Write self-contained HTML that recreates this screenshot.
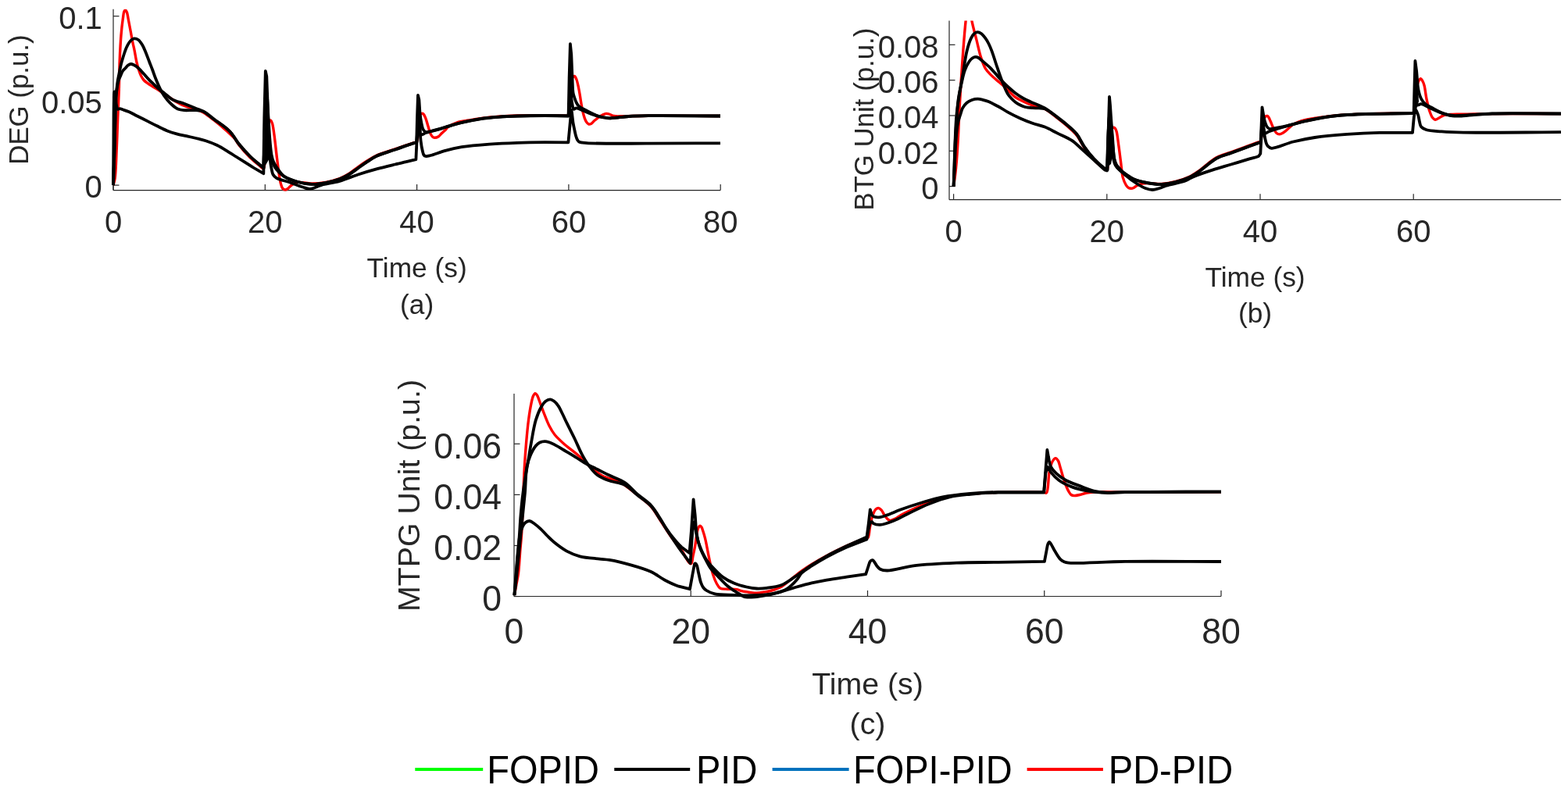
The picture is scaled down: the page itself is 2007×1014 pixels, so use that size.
<!DOCTYPE html>
<html><head><meta charset="utf-8"><title>Figure</title>
<style>html,body{margin:0;padding:0;background:#fff;overflow:hidden}svg{display:block}</style>
</head><body>
<svg width="2007" height="1014" viewBox="0 0 2007 1014" font-family="'Liberation Sans', Arial, Helvetica, sans-serif">
<rect width="2007" height="1014" fill="#ffffff"/>
<line x1="145.00" y1="243.60" x2="922.20" y2="243.60" stroke="#262626" stroke-width="1.2"/>
<line x1="145.00" y1="11.80" x2="145.00" y2="243.60" stroke="#262626" stroke-width="1.2"/>
<line x1="145.00" y1="243.60" x2="145.00" y2="236.10" stroke="#262626" stroke-width="1.2"/>
<text transform="translate(145.00 297.50) scale(1 1.02)" font-size="40" text-anchor="middle" fill="#262626">0</text>
<line x1="339.30" y1="243.60" x2="339.30" y2="236.10" stroke="#262626" stroke-width="1.2"/>
<text transform="translate(339.30 297.50) scale(1 1.02)" font-size="40" text-anchor="middle" fill="#262626">20</text>
<line x1="533.60" y1="243.60" x2="533.60" y2="236.10" stroke="#262626" stroke-width="1.2"/>
<text transform="translate(533.60 297.50) scale(1 1.02)" font-size="40" text-anchor="middle" fill="#262626">40</text>
<line x1="727.90" y1="243.60" x2="727.90" y2="236.10" stroke="#262626" stroke-width="1.2"/>
<text transform="translate(727.90 297.50) scale(1 1.02)" font-size="40" text-anchor="middle" fill="#262626">60</text>
<line x1="922.20" y1="243.60" x2="922.20" y2="236.10" stroke="#262626" stroke-width="1.2"/>
<text transform="translate(922.20 297.50) scale(1 1.02)" font-size="40" text-anchor="middle" fill="#262626">80</text>
<line x1="145.00" y1="237.10" x2="152.50" y2="237.10" stroke="#262626" stroke-width="1.2"/>
<text transform="translate(130.80 253.46) scale(1 1.02)" font-size="40" text-anchor="end" fill="#262626">0</text>
<line x1="145.00" y1="128.90" x2="152.50" y2="128.90" stroke="#262626" stroke-width="1.2"/>
<text transform="translate(130.80 145.26) scale(1 1.02)" font-size="40" text-anchor="end" fill="#262626">0.05</text>
<line x1="145.00" y1="20.70" x2="152.50" y2="20.70" stroke="#262626" stroke-width="1.2"/>
<text transform="translate(130.80 37.06) scale(1 1.02)" font-size="40" text-anchor="end" fill="#262626">0.1</text>
<clipPath id="clipa"><rect x="142.0" y="11.8" width="783.2" height="237.79999999999998"/></clipPath>
<g clip-path="url(#clipa)">
<path d="M145.00,237.10 C145.70,234.27 146.51,232.49 147.10,228.60 C148.33,220.42 148.69,202.98 149.30,190.00 C149.92,176.79 150.28,162.89 150.80,150.00 C151.28,137.94 151.90,126.91 152.30,115.00 C152.71,102.60 152.72,89.12 153.20,77.00 C153.64,65.87 154.21,54.54 155.00,45.00 C155.64,37.26 156.49,29.62 157.30,24.00 C157.85,20.20 158.12,16.32 159.00,14.50 C159.43,13.62 160.00,12.77 160.50,12.80 C161.10,12.84 161.77,14.24 162.30,15.50 C163.26,17.80 163.77,22.34 164.50,26.00 C165.30,29.98 166.05,34.04 166.90,38.50 C167.87,43.62 169.04,50.33 170.00,55.00 C170.71,58.46 171.30,60.56 172.00,64.00 C172.93,68.56 173.91,75.31 175.00,80.00 C175.87,83.74 176.80,86.98 177.80,90.00 C178.65,92.56 179.42,94.86 180.50,97.00 C181.51,99.00 182.60,100.92 184.00,102.50 C185.35,104.03 186.98,105.13 188.70,106.40 C190.61,107.81 192.70,109.05 195.00,110.50 C197.72,112.22 200.88,113.98 204.00,116.00 C207.51,118.27 211.41,121.11 215.00,123.50 C218.40,125.76 221.55,128.01 225.00,130.00 C228.48,132.01 231.81,133.91 235.80,135.50 C240.36,137.32 246.59,138.41 251.00,140.00 C254.52,141.27 257.01,142.13 260.30,144.00 C264.55,146.43 269.32,150.33 274.00,154.00 C279.20,158.08 285.34,163.33 290.00,167.50 C293.78,170.88 297.22,173.72 300.00,177.00 C302.47,179.91 303.52,182.69 306.10,186.00 C309.66,190.57 315.29,196.97 319.90,201.50 C323.96,205.49 328.88,209.36 332.10,212.00 C334.14,213.68 335.97,216.49 337.20,216.00 C339.14,215.22 338.84,205.94 339.50,200.00 C340.33,192.60 340.85,182.27 341.50,175.00 C342.01,169.36 342.31,163.75 343.00,160.00 C343.43,157.69 343.64,155.36 344.50,154.50 C345.01,154.00 345.83,153.75 346.40,154.00 C347.26,154.38 347.89,156.20 348.50,158.00 C349.58,161.19 350.09,166.39 350.90,172.00 C352.11,180.35 353.41,193.82 354.60,203.30 C355.59,211.20 356.54,219.08 357.50,225.00 C358.17,229.14 358.61,232.53 359.50,235.50 C360.20,237.82 360.79,240.26 362.00,241.50 C362.92,242.44 364.26,243.05 365.40,243.00 C366.60,242.95 367.82,241.87 369.00,241.00 C370.39,239.98 371.46,238.27 373.10,237.10 C375.02,235.72 377.40,234.07 380.00,233.50 C382.95,232.85 386.74,233.74 390.00,234.00 C393.13,234.25 395.63,234.98 399.20,235.00 C404.14,235.03 411.03,234.35 416.90,233.30 C422.87,232.23 429.47,230.61 434.70,228.60 C439.14,226.89 442.66,224.89 446.50,222.50 C450.54,219.99 454.33,216.60 458.30,213.80 C462.23,211.03 466.20,208.29 470.20,205.80 C474.10,203.37 477.27,201.16 482.00,199.00 C488.42,196.07 497.80,193.50 505.70,190.80 C513.57,188.10 524.70,184.15 529.30,182.80 C531.17,182.25 532.27,182.99 533.30,181.80 C535.67,179.07 534.65,166.02 535.50,160.00 C536.11,155.70 536.65,151.60 537.50,149.00 C538.00,147.46 538.37,145.97 539.20,145.50 C539.86,145.12 540.94,145.21 541.70,145.70 C542.92,146.49 543.86,149.16 544.80,151.40 C546.02,154.30 546.94,158.43 548.00,161.80 C549.01,164.99 549.88,168.72 551.00,171.10 C551.77,172.74 552.51,174.12 553.50,175.00 C554.30,175.71 555.14,176.22 556.20,176.30 C557.63,176.41 559.92,175.60 561.40,174.70 C562.84,173.82 563.68,172.27 565.00,171.00 C566.51,169.55 568.55,167.98 570.00,166.50 C571.26,165.22 571.69,163.95 573.30,162.70 C575.90,160.68 580.83,158.24 585.10,156.80 C589.68,155.26 595.04,154.87 600.00,154.00 C604.91,153.14 609.21,152.33 614.70,151.60 C621.63,150.68 630.42,149.80 638.30,149.20 C646.18,148.60 653.30,148.27 662.00,148.00 C672.64,147.67 686.15,147.55 697.50,147.60 L727.60,148.20 L729.50,120.00 L731.50,103.00 C732.06,100.96 732.60,99.37 733.50,98.50 C734.12,97.90 735.05,97.36 735.70,97.60 C736.64,97.94 737.31,100.19 738.00,102.00 C738.99,104.61 739.78,108.65 740.50,112.00 C741.21,115.32 741.73,118.60 742.30,122.00 C742.90,125.53 743.37,129.26 744.00,132.80 C744.61,136.25 745.26,139.85 746.00,143.00 C746.65,145.76 747.27,148.40 748.10,150.70 C748.81,152.66 749.49,154.56 750.50,156.00 C751.37,157.24 752.45,158.68 753.60,159.00 C754.64,159.29 755.93,158.78 757.00,158.20 C758.26,157.51 759.10,156.03 760.50,154.80 C762.38,153.14 764.95,150.84 767.40,149.30 C769.79,147.79 772.82,146.05 775.00,145.60 C776.50,145.29 777.52,145.48 779.00,145.80 C781.00,146.23 783.06,147.97 785.80,148.50 C789.62,149.24 794.39,148.62 800.00,148.60 C808.15,148.57 817.27,148.26 830.00,148.20 C852.29,148.09 891.33,148.40 922.00,148.50" fill="none" stroke="#ff0000" stroke-width="3.4" stroke-linejoin="round" stroke-linecap="butt"/>
<path d="M145.00,237.10 C145.13,218.07 145.26,198.40 145.40,180.00 C145.53,162.78 145.49,141.11 145.80,130.00 C145.96,124.44 145.54,117.98 146.40,117.50 C146.65,117.36 147.05,117.63 147.30,118.00 C148.00,119.05 147.90,123.22 148.20,126.00 C148.53,129.03 148.61,132.98 149.20,135.50 C149.61,137.24 149.90,139.31 150.80,139.80 C151.51,140.19 152.63,139.15 153.60,139.20 C154.69,139.26 155.64,139.84 157.00,140.30 C159.05,140.99 161.99,141.85 164.70,143.00 C167.93,144.37 171.29,146.33 175.00,148.20 C179.38,150.41 184.77,153.12 189.30,155.40 C193.40,157.46 196.98,159.35 201.00,161.30 C205.21,163.35 209.70,165.70 214.00,167.40 C218.03,168.99 221.93,170.17 226.00,171.30 C230.12,172.44 234.42,173.25 238.60,174.20 C242.75,175.15 246.88,176.00 251.00,177.00 C255.12,178.00 259.06,178.82 263.30,180.20 C268.03,181.74 273.18,183.64 278.00,186.00 C283.05,188.47 288.56,192.16 292.90,194.80 C296.32,196.88 298.85,198.53 302.00,200.50 C305.40,202.62 308.93,204.79 312.60,207.10 C316.58,209.61 320.85,212.47 325.00,215.00 L337.30,222.20 L338.60,170.00 L340.50,135.00 L342.50,150.00 C343.35,159.22 343.67,174.96 344.30,185.00 C344.78,192.60 345.15,199.33 345.80,205.00 C346.28,209.22 346.81,212.70 347.50,216.00 C348.08,218.76 348.30,221.42 349.50,223.50 C350.61,225.43 351.96,226.84 354.20,228.20 C357.69,230.31 364.31,231.21 369.60,233.00 C375.32,234.94 382.27,237.97 387.30,239.50 C390.92,240.60 393.34,241.94 396.80,241.80 C401.08,241.62 405.62,238.59 411.00,237.10 C417.85,235.20 426.87,234.04 434.70,231.80 C442.64,229.52 450.39,226.07 458.30,223.50 C466.16,220.94 474.07,218.57 482.00,216.40 C489.87,214.24 498.79,212.16 505.70,210.50 C511.06,209.21 515.41,208.29 520.00,207.20 L532.40,204.20 L534.00,170.00 L535.50,145.00 L537.00,160.00 C537.56,166.28 537.87,174.46 538.60,180.40 C539.18,185.06 539.90,189.48 540.70,192.80 C541.25,195.09 541.58,197.29 542.50,198.50 C543.12,199.32 543.79,199.79 544.80,200.00 C546.32,200.32 548.40,199.63 551.00,199.00 C555.64,197.88 563.46,194.58 570.00,192.80 C576.78,190.96 583.05,189.47 591.00,188.20 C601.25,186.56 614.66,185.50 626.50,184.60 C638.32,183.70 650.16,183.20 662.00,182.80 C673.83,182.40 686.17,182.26 697.50,182.20 L727.40,182.40 L729.50,160.00 L731.30,141.00 C731.97,140.99 732.79,152.86 733.60,157.60 C734.21,161.19 734.88,164.10 735.50,167.00 C736.04,169.51 736.46,171.88 737.10,174.00 C737.65,175.83 738.21,177.64 739.00,179.00 C739.63,180.10 740.02,181.03 741.20,181.70 C743.18,182.82 746.09,182.74 750.90,183.10 C764.56,184.13 802.64,183.66 830.00,183.70 C859.51,183.75 891.33,183.43 922.00,183.30" fill="none" stroke="#000000" stroke-width="3.8" stroke-linejoin="round" stroke-linecap="butt"/>
<path d="M145.00,237.10 C145.43,224.73 145.92,212.60 146.30,200.00 C146.69,186.92 146.92,172.98 147.30,160.00 C147.66,147.68 147.57,134.23 148.50,124.00 C149.20,116.34 150.21,108.81 151.50,104.00 C152.26,101.15 153.18,99.57 154.10,97.40 C155.01,95.24 155.82,92.78 157.00,91.00 C158.01,89.47 159.33,88.45 160.50,87.20 C161.66,85.95 162.72,84.38 164.00,83.50 C165.12,82.73 166.41,82.06 167.60,82.00 C168.74,81.94 169.75,82.41 171.00,83.00 C172.82,83.86 175.18,85.47 177.20,87.20 C179.53,89.20 181.70,91.99 184.00,94.50 C186.40,97.12 188.87,100.10 191.30,102.60 C193.54,104.90 195.82,106.96 198.00,109.00 C200.05,110.91 201.96,112.80 204.00,114.50 C205.96,116.13 207.73,117.25 210.00,119.00 C213.05,121.35 216.54,125.15 220.60,127.40 C225.04,129.86 230.74,130.89 235.80,132.80 C240.91,134.73 246.65,137.09 251.10,138.90 C254.56,140.30 257.05,140.88 260.30,142.70 C264.55,145.08 269.03,148.98 274.00,152.70 C280.04,157.23 288.40,162.36 293.90,168.00 C298.90,173.12 301.76,179.36 306.10,184.70 C310.43,190.03 315.31,195.47 319.90,200.00 C323.97,204.02 328.84,207.88 332.10,210.70 L337.50,215.30 L338.80,160.00 L340.20,115.00 L341.50,120.00 C342.43,125.77 342.83,140.00 343.50,150.00 C344.17,160.00 344.73,171.28 345.50,180.00 C346.10,186.77 346.55,193.06 347.50,198.00 C348.19,201.55 348.85,204.25 350.00,207.00 C351.06,209.55 352.24,211.44 354.00,214.00 C356.43,217.53 359.49,222.81 363.70,225.90 C368.39,229.35 375.40,231.33 381.40,233.00 C387.24,234.62 393.26,235.72 399.20,235.90 C405.10,236.08 411.03,235.17 416.90,234.10 C422.87,233.02 429.46,231.38 434.70,229.40 C439.13,227.73 442.65,225.80 446.50,223.50 C450.53,221.10 454.36,217.96 458.30,215.20 C462.26,212.43 466.20,209.50 470.20,206.90 C474.10,204.37 477.25,202.03 482.00,199.80 C488.41,196.79 497.81,194.25 505.70,191.50 C513.57,188.75 524.64,184.56 529.30,183.30 L533.40,182.50 L535.00,155.00 L536.50,152.00 C537.17,152.12 537.15,158.63 537.50,162.00 C537.85,165.46 537.36,171.60 538.60,172.50 C539.20,172.94 540.12,172.31 541.00,172.00 C542.19,171.59 543.50,170.56 545.00,170.00 C546.77,169.35 548.73,169.10 551.00,168.50 C554.00,167.71 558.10,166.56 561.40,165.60 C564.41,164.73 566.50,164.03 570.00,163.00 C575.46,161.40 583.75,158.75 591.00,157.00 C598.62,155.16 606.78,153.50 614.70,152.30 C622.55,151.11 630.42,150.42 638.30,149.80 C646.18,149.18 653.30,148.89 662.00,148.60 C672.64,148.24 686.15,148.00 697.50,148.00 L727.60,148.50 L729.00,125.00 L730.50,122.00 C731.26,122.11 731.52,128.90 732.20,132.00 C732.81,134.75 733.01,139.06 734.30,139.70 C735.19,140.14 736.36,138.31 737.80,138.30 C740.08,138.28 743.41,140.42 746.70,141.70 C750.80,143.30 755.95,145.71 760.50,147.20 C764.78,148.60 769.46,149.83 773.20,150.50 C776.09,151.02 777.70,151.29 781.00,151.30 C786.76,151.32 796.66,149.52 804.70,149.00 C812.99,148.47 818.93,148.36 830.00,148.20 C851.10,147.90 891.33,148.40 922.00,148.50" fill="none" stroke="#000000" stroke-width="3.8" stroke-linejoin="round" stroke-linecap="butt"/>
<path d="M145.00,237.10 C145.43,224.73 145.92,212.60 146.30,200.00 C146.69,186.92 146.95,172.59 147.30,160.00 C147.62,148.74 147.71,137.66 148.30,128.00 C148.79,119.97 149.45,112.21 150.30,106.00 C150.93,101.38 151.72,98.00 152.50,94.00 C153.28,90.00 154.15,85.45 155.00,82.00 C155.66,79.34 156.30,77.33 157.00,75.00 C157.70,72.66 158.40,70.32 159.20,68.00 C160.00,65.66 160.80,63.21 161.80,61.00 C162.75,58.89 163.80,56.74 165.00,55.00 C166.06,53.46 167.22,51.95 168.50,51.00 C169.59,50.19 170.71,49.48 172.00,49.40 C173.50,49.31 175.46,49.93 177.00,51.00 C178.97,52.36 180.77,55.18 182.30,57.70 C183.98,60.46 185.10,63.65 186.50,67.00 C188.10,70.84 189.80,75.62 191.30,79.50 C192.61,82.89 193.76,85.71 195.00,89.00 C196.33,92.53 197.44,96.10 199.00,100.00 C200.82,104.55 203.33,110.52 205.40,114.60 C206.97,117.69 208.40,120.13 210.00,122.50 C211.42,124.61 212.79,126.34 214.40,128.20 C216.10,130.17 218.12,132.29 220.00,134.00 C221.69,135.54 223.35,137.03 225.10,138.10 C226.69,139.07 228.26,139.78 230.00,140.30 C231.82,140.84 233.40,141.01 235.80,141.20 C239.68,141.50 246.66,140.84 251.10,141.20 C254.57,141.48 257.10,141.36 260.30,142.70 C264.62,144.51 269.03,148.98 274.00,152.70 C280.04,157.23 288.40,162.36 293.90,168.00 C298.90,173.12 301.76,179.36 306.10,184.70 C310.43,190.03 315.31,195.47 319.90,200.00 C323.97,204.02 328.86,208.00 332.10,210.70 L337.30,214.80 L338.30,150.00 L339.80,91.00 L341.30,98.00 L342.30,125.00 C342.64,134.74 342.90,145.26 343.30,155.00 C343.68,164.24 343.96,174.05 344.60,182.00 C345.11,188.33 345.58,194.26 346.50,199.00 C347.18,202.50 348.02,205.34 349.00,208.00 C349.83,210.24 350.58,212.03 351.80,214.00 C353.17,216.21 355.04,218.53 357.00,220.50 C359.00,222.50 360.77,224.18 363.70,225.90 C368.06,228.45 375.40,231.33 381.40,233.00 C387.24,234.62 393.26,235.72 399.20,235.90 C405.10,236.08 411.03,235.17 416.90,234.10 C422.87,233.02 429.46,231.38 434.70,229.40 C439.13,227.73 442.65,225.80 446.50,223.50 C450.53,221.10 454.36,217.96 458.30,215.20 C462.26,212.43 466.20,209.50 470.20,206.90 C474.10,204.37 477.25,202.03 482.00,199.80 C488.41,196.79 497.81,194.25 505.70,191.50 C513.57,188.75 524.74,184.73 529.30,183.30 L533.20,182.20 L534.00,150.00 L535.00,121.90 L536.40,128.00 L537.50,145.00 C537.95,149.24 538.45,152.97 539.20,156.60 C539.88,159.89 540.45,163.74 541.70,165.90 C542.54,167.36 543.45,168.56 544.80,169.00 C546.41,169.52 548.68,168.48 551.00,168.00 C554.03,167.38 558.11,166.31 561.40,165.40 C564.41,164.57 566.50,163.83 570.00,162.80 C575.46,161.20 583.75,158.55 591.00,156.80 C598.62,154.96 606.78,153.29 614.70,152.10 C622.55,150.93 630.42,150.30 638.30,149.70 C646.18,149.10 653.30,148.79 662.00,148.50 C672.64,148.14 686.15,147.92 697.50,147.90 L727.60,148.30 L728.60,100.00 L729.90,56.20 L731.30,70.00 L732.50,100.00 C732.85,107.06 732.80,114.36 733.60,119.00 C734.08,121.77 734.87,123.54 735.50,125.50 C736.03,127.15 736.36,128.47 737.10,130.00 C737.96,131.79 738.83,133.84 740.50,135.50 C742.63,137.62 746.31,139.22 749.50,141.00 C752.95,142.93 757.14,145.15 760.50,146.60 C763.20,147.77 765.52,148.61 768.00,149.30 C770.35,149.95 772.75,150.36 775.00,150.70 C777.07,151.01 778.70,151.28 781.00,151.30 C784.11,151.33 788.20,150.76 792.00,150.40 C796.08,150.01 799.74,149.35 804.70,149.00 C811.69,148.51 818.93,148.36 830.00,148.20 C851.10,147.90 891.33,148.40 922.00,148.50" fill="none" stroke="#000000" stroke-width="3.8" stroke-linejoin="round" stroke-linecap="butt"/>
<path d="M338.30,214.00 L339.80,93.00 L341.80,105.00 L343.00,130.00 L344.30,159.00 L345.60,185.00 L346.50,200.00 L342.00,208.00 Z" fill="#000"/>
<path d="M533.50,181.00 L535.00,124.00 L536.50,132.00 L537.70,150.00 L538.50,163.00 L536.00,176.00 Z" fill="#000"/>
<path d="M728.00,146.00 L729.90,58.00 L731.30,72.00 L732.60,100.00 L733.50,118.00 L732.00,135.00 L729.50,145.00 Z" fill="#000"/>
</g>
<text x="533.60" y="355.00" font-size="35.3" text-anchor="middle" fill="#262626">Time (s)</text>
<text x="533.60" y="401.80" font-size="35.3" text-anchor="middle" fill="#262626">(a)</text>
<text x="36.50" y="127.60" font-size="34.8" text-anchor="middle" fill="#262626" transform="rotate(-90 36.50 127.60)">DEG (p.u.)</text>
<line x1="1215.00" y1="255.70" x2="1998.10" y2="255.70" stroke="#262626" stroke-width="1.2"/>
<line x1="1215.00" y1="26.40" x2="1215.00" y2="255.70" stroke="#262626" stroke-width="1.2"/>
<line x1="1220.60" y1="255.70" x2="1220.60" y2="248.20" stroke="#262626" stroke-width="1.2"/>
<text transform="translate(1220.60 309.50) scale(1 1.02)" font-size="40" text-anchor="middle" fill="#262626">0</text>
<line x1="1416.80" y1="255.70" x2="1416.80" y2="248.20" stroke="#262626" stroke-width="1.2"/>
<text transform="translate(1416.80 309.50) scale(1 1.02)" font-size="40" text-anchor="middle" fill="#262626">20</text>
<line x1="1613.00" y1="255.70" x2="1613.00" y2="248.20" stroke="#262626" stroke-width="1.2"/>
<text transform="translate(1613.00 309.50) scale(1 1.02)" font-size="40" text-anchor="middle" fill="#262626">40</text>
<line x1="1809.20" y1="255.70" x2="1809.20" y2="248.20" stroke="#262626" stroke-width="1.2"/>
<text transform="translate(1809.20 309.50) scale(1 1.02)" font-size="40" text-anchor="middle" fill="#262626">60</text>
<line x1="1215.00" y1="238.60" x2="1222.50" y2="238.60" stroke="#262626" stroke-width="1.2"/>
<text transform="translate(1201.50 254.96) scale(1 1.02)" font-size="40" text-anchor="end" fill="#262626">0</text>
<line x1="1215.00" y1="193.28" x2="1222.50" y2="193.28" stroke="#262626" stroke-width="1.2"/>
<text transform="translate(1201.50 209.64) scale(1 1.02)" font-size="40" text-anchor="end" fill="#262626">0.02</text>
<line x1="1215.00" y1="147.96" x2="1222.50" y2="147.96" stroke="#262626" stroke-width="1.2"/>
<text transform="translate(1201.50 164.32) scale(1 1.02)" font-size="40" text-anchor="end" fill="#262626">0.04</text>
<line x1="1215.00" y1="102.64" x2="1222.50" y2="102.64" stroke="#262626" stroke-width="1.2"/>
<text transform="translate(1201.50 119.00) scale(1 1.02)" font-size="40" text-anchor="end" fill="#262626">0.06</text>
<line x1="1215.00" y1="57.32" x2="1222.50" y2="57.32" stroke="#262626" stroke-width="1.2"/>
<text transform="translate(1201.50 73.68) scale(1 1.02)" font-size="40" text-anchor="end" fill="#262626">0.08</text>
<clipPath id="clipb"><rect x="1212.0" y="26.4" width="789.0999999999999" height="235.29999999999998"/></clipPath>
<g clip-path="url(#clipb)">
<path d="M1220.60,238.60 C1221.23,234.07 1221.90,229.98 1222.50,225.00 C1223.22,218.98 1223.90,212.17 1224.50,205.00 C1225.19,196.68 1225.75,187.70 1226.30,178.00 C1226.94,166.68 1227.37,153.27 1228.00,141.20 C1228.61,129.51 1229.25,118.73 1230.00,106.70 C1230.83,93.50 1231.75,78.84 1232.80,65.20 C1233.82,51.92 1235.07,36.45 1236.20,25.90 C1236.97,18.77 1237.47,11.79 1238.50,8.00 C1239.00,6.14 1239.66,3.97 1240.20,4.00 C1240.84,4.04 1241.49,7.49 1242.00,10.00 C1242.82,14.01 1242.76,20.01 1243.80,25.90 C1245.14,33.44 1247.97,43.21 1250.00,51.40 C1251.90,59.03 1253.51,67.06 1255.60,73.50 C1257.29,78.70 1258.80,83.43 1261.10,87.30 C1263.06,90.60 1265.31,92.83 1268.00,95.60 C1271.14,98.83 1275.57,102.36 1279.00,105.30 C1281.94,107.82 1284.44,109.55 1287.30,112.20 C1290.70,115.34 1294.02,120.10 1297.90,123.10 C1301.61,125.98 1305.96,127.98 1310.00,130.00 C1313.83,131.92 1317.31,133.50 1321.50,135.00 C1326.30,136.72 1332.24,137.04 1337.30,139.50 C1342.82,142.19 1347.89,146.97 1353.10,151.00 C1358.43,155.13 1364.40,159.90 1368.90,164.00 C1372.54,167.32 1375.36,169.75 1378.30,173.50 C1381.73,177.87 1384.22,183.95 1387.80,189.00 C1391.55,194.29 1395.86,199.78 1400.40,204.50 C1404.81,209.09 1411.84,215.22 1414.60,217.00 C1415.59,217.64 1416.21,218.33 1416.80,218.00 C1418.17,217.24 1417.96,209.95 1418.50,205.00 C1419.22,198.43 1419.75,188.84 1420.50,182.00 C1421.11,176.46 1421.31,170.27 1422.50,167.00 C1423.15,165.22 1423.99,163.50 1424.90,163.20 C1425.54,162.99 1426.39,163.45 1427.00,164.00 C1427.85,164.77 1428.40,166.12 1429.00,168.00 C1430.21,171.79 1430.91,179.78 1431.80,186.00 C1432.75,192.65 1433.58,199.80 1434.50,206.70 C1435.42,213.60 1435.79,221.87 1437.30,227.40 C1438.37,231.33 1439.91,234.78 1441.40,237.10 C1442.38,238.63 1443.32,239.83 1444.50,240.50 C1445.52,241.08 1446.79,241.21 1447.90,241.20 C1448.96,241.19 1449.95,240.97 1451.00,240.50 C1452.30,239.92 1453.42,238.52 1455.00,237.70 C1456.95,236.69 1459.62,235.72 1462.00,235.20 C1464.35,234.69 1466.27,234.65 1469.20,234.60 C1473.79,234.53 1481.01,235.84 1486.90,235.50 C1492.84,235.15 1498.84,234.01 1504.70,232.50 C1510.67,230.96 1517.20,228.77 1522.40,226.30 C1526.89,224.17 1530.43,221.73 1534.30,219.00 C1538.33,216.16 1542.12,212.50 1546.10,209.50 C1549.99,206.57 1553.38,203.55 1557.90,201.20 C1563.07,198.51 1569.78,196.95 1575.70,194.80 C1581.61,192.65 1587.49,190.43 1593.40,188.30 C1599.32,186.17 1608.15,182.90 1611.20,182.00 C1612.23,181.70 1612.72,182.15 1613.30,181.50 C1614.92,179.70 1614.66,170.16 1615.50,165.00 C1616.25,160.40 1616.87,154.75 1618.00,152.00 C1618.59,150.57 1619.20,149.58 1620.00,149.00 C1620.62,148.55 1621.47,148.22 1622.10,148.40 C1622.82,148.61 1623.41,149.60 1624.00,150.50 C1624.81,151.73 1625.36,153.42 1626.20,155.30 C1627.39,157.97 1628.93,162.27 1630.40,165.00 C1631.56,167.15 1632.63,169.36 1634.00,170.50 C1635.01,171.34 1636.16,171.84 1637.30,171.90 C1638.49,171.97 1639.75,171.39 1641.00,170.80 C1642.50,170.09 1643.83,169.05 1645.60,167.70 C1648.27,165.66 1651.49,161.65 1655.20,159.40 C1659.23,156.96 1664.49,155.23 1669.10,153.90 C1673.42,152.66 1677.55,152.22 1682.00,151.50 C1686.73,150.74 1691.03,150.16 1696.70,149.50 C1704.46,148.59 1714.16,147.47 1724.30,146.80 C1736.69,145.99 1751.89,145.75 1765.70,145.40 C1779.52,145.05 1801.93,144.97 1807.20,144.70 C1808.44,144.64 1808.86,145.12 1809.50,144.50 C1811.38,142.70 1811.08,131.45 1812.00,125.00 C1812.91,118.62 1813.41,110.27 1815.00,106.00 C1815.91,103.56 1817.21,100.77 1818.30,100.70 C1819.20,100.64 1820.24,102.68 1821.00,104.00 C1821.90,105.58 1822.45,107.27 1823.10,109.70 C1824.18,113.75 1824.75,120.80 1825.90,126.30 C1827.05,131.83 1828.46,138.39 1830.00,142.80 C1831.08,145.91 1832.07,148.70 1833.50,150.50 C1834.53,151.80 1835.68,153.04 1837.00,153.20 C1838.47,153.38 1840.28,151.86 1842.00,151.00 C1843.93,150.03 1845.61,148.37 1848.00,147.60 C1851.03,146.62 1855.11,146.63 1859.00,146.40 C1863.36,146.15 1867.15,146.37 1872.90,146.30 C1882.29,146.18 1895.00,145.74 1910.00,145.60 C1933.10,145.38 1968.67,145.60 1998.00,145.60" fill="none" stroke="#ff0000" stroke-width="3.4" stroke-linejoin="round" stroke-linecap="butt"/>
<path d="M1220.60,238.60 C1221.00,230.73 1221.37,223.58 1221.80,215.00 C1222.32,204.70 1222.69,191.22 1223.50,181.00 C1224.17,172.58 1224.76,164.31 1226.00,158.00 C1226.89,153.46 1228.20,149.98 1229.30,146.50 C1230.23,143.55 1230.73,140.88 1232.10,138.40 C1233.49,135.88 1235.50,133.27 1237.60,131.50 C1239.51,129.89 1241.72,128.80 1244.00,128.00 C1246.31,127.19 1249.00,126.71 1251.40,126.70 C1253.66,126.69 1255.77,127.26 1258.00,127.80 C1260.37,128.37 1262.46,128.99 1265.20,130.10 C1269.11,131.69 1274.70,134.64 1279.00,137.00 C1282.92,139.15 1285.96,141.38 1290.00,143.60 C1294.75,146.21 1300.49,149.11 1305.80,151.50 C1310.99,153.84 1316.22,155.94 1321.50,157.80 C1326.72,159.64 1332.12,160.55 1337.30,162.60 C1342.65,164.72 1347.60,167.66 1353.10,170.40 C1359.12,173.40 1366.53,176.23 1372.00,179.90 C1376.86,183.17 1380.18,186.98 1384.60,190.90 C1389.58,195.31 1395.27,200.50 1400.40,205.10 C1405.26,209.45 1411.82,216.21 1414.60,217.80 L1416.80,218.50 L1418.30,175.00 L1419.70,150.00 C1420.16,149.99 1420.80,159.46 1421.30,165.00 C1421.92,171.85 1422.24,181.04 1423.00,188.00 C1423.63,193.83 1424.29,199.67 1425.30,204.00 C1426.01,207.07 1426.18,209.06 1427.80,211.70 C1430.12,215.49 1435.10,219.64 1439.60,223.50 C1444.76,227.93 1452.33,233.42 1457.30,236.50 C1460.62,238.56 1462.99,239.91 1466.00,241.00 C1468.93,242.06 1472.08,243.01 1475.10,243.00 C1478.08,242.99 1481.07,241.87 1484.00,241.00 C1486.97,240.11 1489.11,238.85 1492.80,237.70 C1498.74,235.85 1510.07,234.18 1516.50,231.80 C1521.23,230.05 1523.61,227.88 1528.30,225.90 C1534.77,223.16 1544.07,220.17 1552.00,217.60 C1559.87,215.04 1567.81,212.87 1575.70,210.50 C1583.58,208.14 1592.77,205.37 1599.30,203.40 C1603.94,202.00 1608.97,201.44 1611.20,199.80 L1613.30,196.70 L1614.80,170.00 L1616.30,160.00 C1616.78,159.99 1617.32,165.22 1617.80,168.00 C1618.32,171.00 1618.71,174.56 1619.30,177.40 C1619.80,179.81 1620.28,182.25 1621.00,184.00 C1621.52,185.27 1621.89,186.20 1622.80,187.10 C1623.93,188.21 1625.26,189.54 1627.60,189.80 C1632.95,190.39 1645.94,183.81 1655.20,181.50 C1664.37,179.22 1672.70,177.51 1682.90,176.00 C1695.28,174.16 1710.49,172.93 1724.30,171.90 C1738.09,170.87 1751.82,170.15 1765.70,169.80 L1808.00,169.80 L1809.80,150.00 L1811.50,140.00 C1812.04,139.88 1812.89,141.81 1813.50,143.00 C1814.26,144.50 1814.94,146.42 1815.50,148.40 C1816.15,150.69 1816.38,153.61 1817.00,156.00 C1817.57,158.19 1817.67,160.53 1819.00,162.20 C1820.48,164.05 1822.88,165.29 1825.90,166.30 C1830.59,167.87 1838.18,167.87 1845.20,168.40 C1853.59,169.04 1860.34,169.35 1872.90,169.60 C1899.58,170.14 1956.30,169.33 1998.00,169.20" fill="none" stroke="#000000" stroke-width="3.8" stroke-linejoin="round" stroke-linecap="butt"/>
<path d="M1220.60,238.60 C1220.90,230.73 1221.20,223.34 1221.50,215.00 C1221.84,205.60 1222.05,194.54 1222.50,185.00 C1222.91,176.28 1223.38,168.88 1224.00,160.00 C1224.71,149.85 1225.27,137.00 1226.60,127.40 C1227.67,119.69 1229.23,113.20 1230.70,106.70 C1232.02,100.84 1233.09,94.99 1234.90,90.10 C1236.44,85.94 1238.50,81.78 1240.40,79.00 C1241.73,77.05 1243.00,75.55 1244.50,74.50 C1245.80,73.60 1247.33,72.85 1248.70,72.80 C1249.99,72.75 1251.25,73.32 1252.50,74.00 C1254.02,74.82 1255.18,76.16 1257.00,77.70 C1259.87,80.14 1264.45,83.76 1268.00,87.30 C1271.80,91.08 1275.28,95.80 1279.00,99.80 C1282.61,103.69 1286.34,107.60 1290.00,111.00 C1293.34,114.11 1296.58,116.95 1300.00,119.50 C1303.26,121.93 1306.48,124.03 1310.00,126.00 C1313.64,128.04 1317.94,129.92 1321.50,131.50 C1324.53,132.85 1327.29,133.79 1330.00,135.00 C1332.54,136.13 1334.49,136.83 1337.30,138.50 C1341.66,141.09 1347.88,145.93 1353.10,149.90 C1358.42,153.95 1364.41,158.57 1368.90,162.60 C1372.54,165.87 1375.37,168.25 1378.30,172.00 C1381.75,176.41 1384.22,182.65 1387.80,187.80 C1391.55,193.19 1395.85,198.81 1400.40,203.60 C1404.81,208.25 1411.55,214.23 1414.60,216.20 L1417.50,217.50 L1419.00,160.00 L1420.50,145.00 C1421.10,145.00 1421.88,156.50 1422.50,163.00 C1423.23,170.65 1423.74,180.60 1424.50,188.00 C1425.11,193.93 1425.50,199.80 1426.50,204.00 C1427.18,206.85 1427.74,208.82 1429.00,211.00 C1430.35,213.34 1432.48,215.45 1434.50,217.50 C1436.60,219.62 1438.80,221.60 1441.40,223.50 C1444.35,225.66 1447.45,227.91 1451.40,229.60 C1456.36,231.71 1463.23,233.23 1469.20,234.30 C1475.07,235.35 1481.00,236.18 1486.90,236.00 C1492.84,235.82 1498.84,234.64 1504.70,233.20 C1510.67,231.73 1517.20,229.62 1522.40,227.20 C1526.89,225.11 1530.42,222.69 1534.30,220.00 C1538.33,217.21 1542.13,213.66 1546.10,210.70 C1549.99,207.80 1553.39,204.76 1557.90,202.40 C1563.07,199.70 1569.78,198.07 1575.70,195.90 C1581.61,193.74 1587.49,191.56 1593.40,189.40 C1599.32,187.23 1607.92,184.07 1611.20,182.90 L1613.80,182.00 L1615.20,160.00 L1616.50,157.00 C1617.11,157.08 1617.22,163.54 1617.80,166.00 C1618.22,167.78 1618.30,170.05 1619.30,170.50 C1620.33,170.97 1622.11,169.22 1624.00,168.50 C1626.79,167.44 1630.75,166.17 1634.50,165.00 C1638.77,163.67 1643.22,162.41 1648.30,161.00 C1654.52,159.28 1661.65,157.23 1669.10,155.50 C1677.62,153.53 1687.47,151.39 1696.70,150.00 C1705.87,148.62 1714.16,147.89 1724.30,147.20 C1736.69,146.36 1751.89,146.13 1765.70,145.80 C1779.52,145.47 1801.75,145.24 1807.20,145.20 L1809.70,145.20 L1811.00,125.00 L1812.50,128.00 C1813.15,129.74 1812.93,133.88 1814.20,134.60 C1815.29,135.22 1817.06,133.07 1819.00,133.20 C1822.20,133.41 1826.95,136.79 1831.40,138.70 C1836.52,140.90 1842.84,144.03 1848.00,145.60 C1852.26,146.90 1855.47,147.64 1860.00,148.00 C1865.80,148.46 1872.66,147.54 1880.00,147.20 C1888.99,146.78 1897.37,145.94 1910.00,145.60 C1931.62,145.02 1968.67,145.60 1998.00,145.60" fill="none" stroke="#000000" stroke-width="3.8" stroke-linejoin="round" stroke-linecap="butt"/>
<path d="M1220.60,238.60 C1220.83,232.40 1221.07,226.94 1221.30,220.00 C1221.60,211.19 1221.87,199.54 1222.20,190.00 C1222.50,181.29 1222.81,172.52 1223.20,165.00 C1223.52,158.81 1223.67,154.41 1224.30,148.10 C1225.10,140.01 1226.59,129.69 1228.00,120.50 C1229.42,111.26 1231.20,102.02 1232.80,92.80 C1234.40,83.59 1235.59,73.16 1237.60,65.20 C1239.18,58.93 1241.13,52.68 1243.10,48.70 C1244.34,46.19 1245.45,44.28 1247.00,43.00 C1248.29,41.94 1249.91,41.11 1251.40,41.10 C1252.91,41.09 1254.54,41.97 1256.00,43.00 C1257.81,44.28 1259.55,46.60 1261.10,48.70 C1262.74,50.91 1264.16,53.38 1265.50,56.00 C1266.95,58.84 1268.00,61.49 1269.40,65.20 C1271.47,70.69 1273.97,79.12 1276.30,85.90 C1278.57,92.48 1280.77,99.28 1283.20,105.30 C1285.39,110.72 1287.74,116.70 1290.10,120.50 C1291.71,123.09 1293.29,124.70 1295.00,126.50 C1296.60,128.18 1298.20,129.67 1300.00,131.00 C1301.80,132.34 1303.79,133.50 1305.80,134.50 C1307.79,135.50 1309.67,136.39 1312.00,137.00 C1314.79,137.73 1318.42,137.97 1321.50,138.20 C1324.41,138.42 1327.28,138.20 1330.00,138.40 C1332.53,138.59 1334.54,138.27 1337.30,139.30 C1341.73,140.95 1347.91,146.09 1353.10,149.90 C1358.45,153.84 1364.41,158.57 1368.90,162.60 C1372.54,165.87 1375.37,168.25 1378.30,172.00 C1381.75,176.41 1384.22,182.65 1387.80,187.80 C1391.55,193.19 1395.85,198.81 1400.40,203.60 C1404.81,208.25 1411.65,214.11 1414.60,216.20 L1417.30,217.70 L1418.60,170.00 L1420.00,123.80 L1421.00,135.00 C1421.39,139.95 1421.66,145.23 1422.10,151.40 C1422.67,159.41 1423.50,170.04 1424.20,179.00 C1424.87,187.51 1425.19,198.44 1426.20,203.90 C1426.71,206.66 1427.27,208.10 1428.00,210.00 C1428.68,211.78 1429.01,213.30 1430.40,215.00 C1432.59,217.68 1437.76,220.83 1441.40,223.30 C1444.76,225.58 1447.45,227.71 1451.40,229.40 C1456.36,231.51 1463.23,233.02 1469.20,234.10 C1475.07,235.17 1481.00,236.08 1486.90,235.90 C1492.84,235.72 1498.83,234.46 1504.70,233.00 C1510.67,231.51 1517.19,229.40 1522.40,227.00 C1526.88,224.93 1530.43,222.58 1534.30,219.90 C1538.34,217.11 1542.12,213.48 1546.10,210.50 C1549.99,207.59 1553.39,204.56 1557.90,202.20 C1563.07,199.50 1569.78,197.87 1575.70,195.70 C1581.61,193.54 1587.49,191.36 1593.40,189.20 C1599.32,187.03 1608.01,183.88 1611.20,182.70 L1613.60,181.80 L1614.60,160.00 L1615.50,137.30 L1616.80,145.00 C1617.21,147.39 1617.53,149.91 1618.00,152.00 C1618.39,153.73 1618.75,155.10 1619.30,156.70 C1619.90,158.43 1620.48,160.57 1621.50,162.00 C1622.41,163.27 1623.34,164.54 1624.90,165.00 C1627.18,165.68 1631.02,164.21 1634.50,163.60 C1638.69,162.87 1643.25,161.98 1648.30,160.80 C1654.54,159.34 1661.65,157.03 1669.10,155.30 C1677.62,153.33 1687.47,151.19 1696.70,149.80 C1705.87,148.42 1714.16,147.69 1724.30,147.00 C1736.69,146.16 1751.89,145.93 1765.70,145.60 C1779.52,145.27 1801.84,145.04 1807.20,145.00 L1809.60,145.00 L1810.50,110.00 L1811.40,78.00 L1813.00,90.00 C1813.80,96.85 1814.14,108.55 1815.50,115.20 C1816.42,119.71 1817.33,123.17 1819.00,126.30 C1820.45,129.03 1822.18,131.22 1824.50,133.20 C1827.11,135.43 1830.84,136.91 1834.20,138.70 C1837.73,140.58 1841.25,142.63 1845.20,144.20 C1849.47,145.90 1854.34,147.71 1859.00,148.40 C1863.57,149.08 1868.28,148.63 1872.90,148.40 C1877.51,148.17 1881.50,147.44 1886.70,147.00 C1893.45,146.43 1899.74,145.75 1910.00,145.40 C1929.92,144.73 1968.67,145.47 1998.00,145.50" fill="none" stroke="#000000" stroke-width="3.8" stroke-linejoin="round" stroke-linecap="butt"/>
<path d="M1417.50,214.00 L1419.60,126.00 L1421.70,150.00 L1423.50,175.00 L1425.00,195.00 L1422.00,210.00 Z" fill="#000"/>
<path d="M1613.80,180.00 L1615.40,140.00 L1616.80,148.00 L1618.00,160.00 L1616.50,175.00 Z" fill="#000"/>
<path d="M1809.70,143.00 L1811.30,82.00 L1813.00,95.00 L1815.00,115.00 L1816.00,130.00 L1813.00,140.00 Z" fill="#000"/>
</g>
<text x="1606.55" y="367.00" font-size="35.3" text-anchor="middle" fill="#262626">Time (s)</text>
<text x="1606.55" y="412.70" font-size="35.3" text-anchor="middle" fill="#262626">(b)</text>
<text x="1118.20" y="152.60" font-size="34.8" text-anchor="middle" fill="#262626" transform="rotate(-90 1118.20 152.60)">BTG Unit (p.u.)</text>
<line x1="658.00" y1="763.50" x2="1563.00" y2="763.50" stroke="#262626" stroke-width="1.2"/>
<line x1="658.00" y1="504.10" x2="658.00" y2="763.50" stroke="#262626" stroke-width="1.2"/>
<line x1="658.00" y1="763.50" x2="658.00" y2="756.00" stroke="#262626" stroke-width="1.2"/>
<text transform="translate(658.00 824.30) scale(1 1.05)" font-size="44.6" text-anchor="middle" fill="#262626">0</text>
<line x1="884.25" y1="763.50" x2="884.25" y2="756.00" stroke="#262626" stroke-width="1.2"/>
<text transform="translate(884.25 824.30) scale(1 1.05)" font-size="44.6" text-anchor="middle" fill="#262626">20</text>
<line x1="1110.50" y1="763.50" x2="1110.50" y2="756.00" stroke="#262626" stroke-width="1.2"/>
<text transform="translate(1110.50 824.30) scale(1 1.05)" font-size="44.6" text-anchor="middle" fill="#262626">40</text>
<line x1="1336.75" y1="763.50" x2="1336.75" y2="756.00" stroke="#262626" stroke-width="1.2"/>
<text transform="translate(1336.75 824.30) scale(1 1.05)" font-size="44.6" text-anchor="middle" fill="#262626">60</text>
<line x1="1563.00" y1="763.50" x2="1563.00" y2="756.00" stroke="#262626" stroke-width="1.2"/>
<text transform="translate(1563.00 824.30) scale(1 1.05)" font-size="44.6" text-anchor="middle" fill="#262626">80</text>
<line x1="658.00" y1="763.60" x2="665.50" y2="763.60" stroke="#262626" stroke-width="1.2"/>
<text transform="translate(642.00 782.08) scale(1 1.05)" font-size="44.6" text-anchor="end" fill="#262626">0</text>
<line x1="658.00" y1="698.50" x2="665.50" y2="698.50" stroke="#262626" stroke-width="1.2"/>
<text transform="translate(642.00 716.98) scale(1 1.05)" font-size="44.6" text-anchor="end" fill="#262626">0.02</text>
<line x1="658.00" y1="633.40" x2="665.50" y2="633.40" stroke="#262626" stroke-width="1.2"/>
<text transform="translate(642.00 651.88) scale(1 1.05)" font-size="44.6" text-anchor="end" fill="#262626">0.04</text>
<line x1="658.00" y1="568.30" x2="665.50" y2="568.30" stroke="#262626" stroke-width="1.2"/>
<text transform="translate(642.00 586.78) scale(1 1.05)" font-size="44.6" text-anchor="end" fill="#262626">0.06</text>
<clipPath id="clipc"><rect x="655.0" y="501.1" width="911.0" height="265.4"/></clipPath>
<g clip-path="url(#clipc)">
<path d="M658.40,762.00 C659.27,757.33 660.15,752.67 661.00,748.00 C661.85,743.33 662.79,739.53 663.50,734.00 C664.52,726.09 665.07,713.91 665.80,705.00 C666.43,697.38 667.08,691.69 667.60,683.80 C668.26,673.85 668.74,660.93 669.20,650.00 C669.63,639.70 669.90,629.54 670.30,620.00 C670.67,611.29 670.98,603.60 671.50,595.00 C672.06,585.81 672.77,576.00 673.60,566.50 C674.43,556.97 675.33,546.74 676.50,537.90 C677.52,530.21 678.79,522.08 680.00,516.40 C680.81,512.60 681.41,509.28 682.50,507.00 C683.22,505.50 684.12,503.68 685.00,503.60 C685.80,503.53 686.76,504.91 687.50,506.00 C688.52,507.51 689.02,509.65 690.00,512.20 C691.56,516.23 693.71,522.58 695.80,527.90 C698.00,533.50 700.32,539.95 702.90,545.00 C705.11,549.31 707.09,552.84 710.00,556.50 C713.18,560.51 717.35,564.20 721.50,567.90 C725.91,571.84 731.34,575.65 735.80,579.40 C739.85,582.81 743.58,586.01 747.20,589.40 C750.70,592.68 753.41,596.22 757.20,599.40 C761.41,602.93 766.03,606.59 771.50,609.40 C777.75,612.61 786.02,613.31 793.00,617.00 C800.72,621.08 808.52,628.01 815.50,633.50 C821.87,638.51 828.23,642.84 833.30,648.50 C838.26,654.04 841.44,660.59 845.70,667.00 C850.28,673.89 855.18,682.02 859.90,688.50 C864.04,694.19 868.58,698.62 872.30,704.00 C875.96,709.29 879.52,718.28 882.10,720.50 C883.10,721.37 884.08,721.98 884.80,721.60 C886.13,720.91 886.25,715.45 887.00,712.00 C887.87,708.00 888.84,703.79 889.70,699.00 C890.76,693.13 891.58,683.60 892.70,679.30 C893.27,677.12 893.74,675.51 894.50,674.50 C894.97,673.87 895.55,673.28 896.10,673.30 C896.72,673.33 897.47,674.22 898.00,675.00 C898.71,676.05 899.02,677.56 899.60,679.30 C900.46,681.89 901.54,685.24 902.50,689.10 C903.85,694.51 905.27,702.77 906.50,708.80 C907.54,713.92 908.30,718.30 909.40,723.00 C910.50,727.70 911.70,732.83 913.10,737.00 C914.28,740.52 915.42,743.68 917.00,746.50 C918.43,749.05 919.73,752.01 922.00,753.30 C924.33,754.63 927.68,753.99 930.90,754.20 C934.69,754.45 939.96,753.97 943.30,754.60 C945.67,755.05 946.91,756.11 949.20,756.70 C952.23,757.49 956.61,758.08 960.00,758.50 C962.99,758.87 965.59,759.26 968.50,759.20 C971.58,759.13 974.83,758.53 978.00,758.00 C981.23,757.46 984.29,757.01 987.70,756.00 C991.72,754.81 996.40,753.34 1000.50,751.00 C1004.96,748.46 1009.02,744.33 1013.30,741.00 C1017.59,737.66 1021.85,734.12 1026.20,731.00 C1030.42,727.97 1034.25,725.43 1039.00,722.50 C1044.70,718.98 1051.28,715.19 1058.20,711.50 C1066.06,707.30 1075.18,702.66 1083.80,698.80 C1092.28,695.00 1105.98,689.72 1109.50,688.50 C1110.39,688.19 1110.71,688.55 1111.20,688.00 C1112.54,686.51 1112.58,679.48 1113.50,675.00 C1114.49,670.17 1115.50,664.15 1117.00,660.00 C1118.14,656.84 1119.32,653.49 1121.00,652.00 C1122.14,650.99 1123.68,650.39 1124.90,650.60 C1126.19,650.82 1127.41,652.24 1128.50,653.50 C1129.83,655.03 1130.78,657.59 1132.00,659.40 C1133.12,661.06 1134.22,662.77 1135.50,664.00 C1136.61,665.07 1137.65,666.31 1139.10,666.50 C1140.98,666.75 1143.73,665.11 1146.00,664.00 C1148.46,662.79 1150.54,660.96 1153.30,659.40 C1156.70,657.48 1160.84,655.46 1165.00,653.50 C1169.64,651.32 1174.53,649.17 1179.90,647.00 C1186.07,644.51 1193.70,641.53 1200.00,639.50 C1205.43,637.75 1209.52,636.43 1215.40,635.30 C1223.01,633.84 1232.48,633.09 1242.00,632.30 C1252.99,631.39 1264.26,630.76 1277.60,630.40 C1294.71,629.94 1328.72,629.73 1336.20,630.40 C1337.99,630.56 1338.58,631.67 1339.50,631.00 C1342.11,629.10 1341.55,611.71 1343.10,604.40 C1344.22,599.13 1345.23,594.12 1347.00,591.00 C1348.16,588.95 1349.79,586.62 1351.10,586.60 C1352.28,586.58 1353.56,588.44 1354.50,590.00 C1355.82,592.19 1356.23,595.56 1357.30,599.10 C1358.80,604.03 1360.67,611.47 1362.60,616.80 C1364.25,621.35 1366.21,626.20 1367.90,629.20 C1368.96,631.08 1369.72,632.61 1371.00,633.50 C1372.14,634.29 1373.47,634.51 1375.00,634.60 C1377.00,634.71 1379.54,634.03 1382.00,633.50 C1384.83,632.89 1387.98,631.58 1391.00,631.00 C1393.98,630.42 1395.92,630.23 1400.00,630.00 C1408.57,629.53 1423.02,630.01 1440.00,630.00 C1469.78,629.98 1522.00,629.87 1563.00,629.80" fill="none" stroke="#ff0000" stroke-width="3.4" stroke-linejoin="round" stroke-linecap="butt"/>
<path d="M658.40,762.00 C659.10,753.00 659.76,744.24 660.50,735.00 C661.28,725.26 662.06,713.98 663.00,705.00 C663.77,697.65 664.35,690.42 665.50,685.00 C666.31,681.18 667.17,678.15 668.40,675.40 C669.42,673.12 670.39,670.91 672.00,669.50 C673.53,668.16 675.78,666.91 677.70,667.00 C679.77,667.10 681.85,669.03 684.00,670.50 C686.57,672.26 689.31,674.69 691.90,677.10 C694.65,679.66 697.22,682.74 700.00,685.50 C702.82,688.30 705.21,690.93 708.70,693.80 C713.26,697.55 719.63,702.47 725.40,705.60 C730.82,708.54 735.93,710.66 742.20,712.30 C749.62,714.24 760.34,714.79 767.30,715.60 C772.24,716.18 775.02,716.07 780.00,716.90 C787.28,718.12 797.78,720.61 806.60,723.10 C815.55,725.63 825.49,728.39 833.30,732.00 C840.00,735.09 844.99,739.55 851.00,742.70 C856.83,745.76 863.12,748.74 868.80,750.70 L883.00,754.20 L886.50,735.00 L889.00,722.00 C889.34,721.53 889.72,721.32 890.10,721.40 C890.71,721.54 891.46,722.80 892.00,724.00 C892.92,726.04 893.24,729.72 894.00,733.00 C894.93,736.98 895.96,742.74 897.20,746.20 C898.05,748.58 898.78,750.34 900.00,752.00 C901.17,753.58 902.41,754.79 904.30,756.00 C906.94,757.70 910.52,759.40 914.90,760.40 C921.36,761.88 932.44,761.45 939.80,761.80 C945.66,762.08 949.70,762.43 955.60,762.40 C963.13,762.37 973.39,762.18 981.30,761.20 C988.20,760.34 994.14,758.90 1000.50,757.30 C1006.94,755.68 1013.28,753.32 1019.70,751.50 C1026.11,749.69 1032.55,747.89 1039.00,746.40 C1045.39,744.93 1051.33,743.80 1058.20,742.60 C1066.11,741.22 1075.37,739.95 1083.80,738.70 L1108.20,735.20 L1111.50,725.00 C1112.36,722.58 1112.82,719.79 1114.00,718.50 C1114.80,717.63 1116.02,716.93 1116.90,717.10 C1117.87,717.29 1118.66,718.89 1119.50,720.00 C1120.48,721.30 1121.17,723.09 1122.30,724.50 C1123.51,726.00 1124.73,727.71 1126.60,728.70 C1128.90,729.92 1131.54,730.45 1135.50,730.50 C1143.39,730.59 1157.92,725.79 1171.00,724.20 C1186.92,722.27 1206.52,721.43 1224.30,720.70 C1242.06,719.97 1259.36,720.09 1277.60,719.80 L1336.90,718.90 L1339.50,705.00 C1340.18,701.67 1340.61,697.86 1341.50,696.00 C1341.97,695.02 1342.51,694.00 1343.10,694.00 C1343.82,694.00 1344.63,695.69 1345.50,697.00 C1346.89,699.09 1348.40,702.63 1350.20,705.60 C1352.26,708.99 1354.94,713.86 1357.30,716.20 C1358.87,717.76 1360.27,718.55 1362.00,719.30 C1363.79,720.08 1364.81,720.38 1367.90,720.70 C1378.56,721.81 1412.77,719.23 1440.00,718.90 C1475.56,718.47 1522.00,718.97 1563.00,719.00" fill="none" stroke="#000000" stroke-width="3.8" stroke-linejoin="round" stroke-linecap="butt"/>
<path d="M658.40,762.00 C659.27,754.67 660.14,747.90 661.00,740.00 C662.01,730.78 663.00,720.00 664.00,710.00 C665.00,700.00 666.00,690.00 667.00,680.00 C668.00,670.00 669.10,658.99 670.00,650.00 C670.73,642.66 671.36,637.45 672.00,630.00 C672.81,620.59 672.74,606.48 674.30,598.00 C675.36,592.22 676.68,588.24 678.60,583.70 C680.51,579.18 683.30,573.80 685.80,570.80 C687.49,568.77 689.07,567.45 691.00,566.50 C692.88,565.58 695.17,565.12 697.20,565.10 C699.16,565.08 701.01,565.66 703.00,566.30 C705.26,567.03 707.30,568.01 710.00,569.40 C713.99,571.45 719.61,575.05 724.40,577.90 C729.18,580.75 734.22,583.74 738.70,586.50 C742.73,588.98 746.02,591.41 750.10,593.70 C754.54,596.19 759.64,598.42 764.40,600.80 C769.17,603.18 773.44,605.44 778.70,608.00 C785.08,611.10 793.75,613.77 800.00,618.00 C805.93,622.02 810.07,627.76 815.50,632.50 C821.15,637.43 828.23,641.50 833.30,647.00 C838.25,652.37 842.35,659.67 845.70,665.00 C848.25,669.06 849.72,672.29 852.00,676.00 C854.43,679.95 857.09,683.78 859.90,688.00 C863.05,692.73 866.90,698.60 870.00,703.00 C872.51,706.56 874.69,709.41 877.00,712.50 L883.60,721.20 L885.30,695.00 L886.80,673.00 C887.22,670.90 887.82,668.49 888.30,668.50 C888.83,668.51 889.34,671.86 889.80,674.00 C890.43,676.93 890.68,680.69 891.50,684.50 C892.50,689.14 894.07,695.35 895.60,699.80 C896.83,703.39 898.14,706.15 899.60,709.30 C901.10,712.52 902.83,715.81 904.50,718.90 C906.10,721.86 907.32,724.64 909.40,727.50 C911.83,730.84 915.19,734.02 918.50,737.50 C922.28,741.47 926.59,746.39 930.90,750.00 C934.89,753.34 939.09,756.06 943.30,758.60 C947.33,761.03 950.89,764.09 955.60,765.00 C961.17,766.08 968.50,764.06 974.90,763.10 C981.33,762.13 988.41,760.90 994.10,759.20 C998.87,757.78 1002.85,756.62 1006.90,754.10 C1011.43,751.29 1016.31,746.39 1019.70,742.60 C1022.43,739.54 1023.37,736.31 1026.20,733.50 C1029.54,730.18 1034.24,727.59 1039.00,724.50 C1044.69,720.80 1051.25,716.77 1058.20,713.00 C1066.04,708.75 1075.18,704.27 1083.80,700.50 L1109.50,690.50 L1111.50,678.00 L1113.50,670.00 C1114.17,668.95 1115.26,667.93 1116.00,668.00 C1116.68,668.06 1116.83,669.53 1117.80,670.10 C1119.54,671.13 1123.18,672.06 1126.60,671.90 C1131.52,671.67 1138.57,668.81 1144.40,666.50 C1150.41,664.11 1155.58,660.85 1162.10,657.70 C1170.07,653.85 1179.80,648.80 1188.80,645.20 C1197.58,641.69 1206.43,638.37 1215.40,636.30 C1224.17,634.28 1232.47,633.73 1242.00,632.80 C1252.99,631.72 1264.25,630.93 1277.60,630.50 L1336.20,630.50 L1338.50,605.00 L1341.00,598.00 C1342.07,597.89 1343.10,602.12 1344.90,604.40 C1347.44,607.63 1351.22,611.91 1355.50,615.00 C1360.44,618.56 1367.25,621.67 1373.30,623.90 C1379.09,626.04 1384.96,627.20 1391.00,628.30 C1397.19,629.42 1402.93,630.14 1410.00,630.50 C1418.85,630.95 1426.61,630.22 1440.00,630.10 C1467.11,629.86 1522.00,629.77 1563.00,629.60" fill="none" stroke="#000000" stroke-width="3.8" stroke-linejoin="round" stroke-linecap="butt"/>
<path d="M658.40,762.00 C658.93,756.33 659.46,751.21 660.00,745.00 C660.66,737.47 661.29,728.71 662.00,720.00 C662.78,710.45 663.75,700.00 664.50,690.00 C665.25,680.00 665.75,669.22 666.50,660.00 C667.14,652.09 667.76,645.28 668.60,638.00 C669.43,630.78 670.37,623.88 671.50,616.50 C672.71,608.64 674.30,600.42 675.70,592.20 C677.14,583.76 678.38,575.28 680.00,566.50 C681.72,557.21 683.29,546.12 685.80,537.90 C687.80,531.33 690.44,524.99 692.90,520.70 C694.56,517.81 695.97,515.56 698.00,514.00 C699.83,512.59 702.36,511.37 704.30,511.40 C705.99,511.42 707.49,512.42 709.00,513.50 C710.88,514.84 712.73,516.94 714.40,519.30 C716.46,522.21 718.15,526.30 720.00,530.00 C721.95,533.92 723.58,537.65 725.80,542.20 C728.66,548.06 732.64,555.63 735.80,562.20 C738.83,568.49 741.37,575.08 744.40,580.80 C747.13,585.96 749.70,590.60 753.00,595.10 C756.35,599.67 760.01,604.64 764.40,608.00 C768.62,611.24 773.35,613.05 778.70,615.10 C784.99,617.51 793.75,617.79 800.00,621.00 C805.93,624.05 810.16,629.17 815.50,633.50 C821.23,638.15 828.23,642.50 833.30,648.00 C838.25,653.37 841.42,659.81 845.70,666.00 C850.27,672.61 855.15,680.44 859.90,686.50 C864.02,691.75 868.17,696.73 872.30,700.50 L882.50,708.00 L884.90,680.00 L887.60,639.50 L889.70,659.60 C890.30,666.20 890.50,673.58 891.20,679.30 C891.75,683.75 892.37,687.58 893.20,691.10 C893.89,694.02 894.61,696.29 895.60,699.00 C896.70,702.00 898.12,705.26 899.60,708.30 C901.09,711.36 902.56,714.46 904.50,717.30 C906.48,720.20 908.59,722.51 911.40,725.50 C915.20,729.56 920.61,735.46 925.60,739.10 C930.12,742.40 934.83,744.74 939.80,746.80 C944.82,748.88 950.56,750.37 955.60,751.50 C960.08,752.51 964.20,753.29 968.50,753.50 C972.76,753.71 976.63,753.39 981.30,752.80 C987.08,752.07 994.91,751.16 1000.50,749.00 C1005.38,747.11 1009.07,744.04 1013.30,741.30 C1017.64,738.49 1021.91,735.30 1026.20,732.30 C1030.48,729.30 1034.24,726.39 1039.00,723.30 C1044.69,719.60 1051.26,715.60 1058.20,711.80 C1066.05,707.50 1075.22,703.08 1083.80,699.00 L1109.50,687.40 L1111.80,670.00 L1113.80,652.30 L1115.50,658.00 C1116.13,659.28 1116.56,660.48 1117.80,661.20 C1119.66,662.28 1123.69,662.38 1126.60,662.10 C1129.59,661.81 1132.05,660.61 1135.50,659.40 C1140.45,657.67 1146.73,654.69 1153.30,652.30 C1161.24,649.41 1171.00,646.18 1179.90,643.50 C1188.73,640.85 1196.92,638.18 1206.50,636.30 C1217.41,634.16 1230.14,632.93 1242.00,631.90 C1253.84,630.87 1264.26,630.44 1277.60,630.10 L1336.20,630.10 L1338.50,600.00 L1340.40,576.00 L1342.00,585.00 C1342.78,588.79 1343.15,593.70 1344.90,597.30 C1346.56,600.72 1349.07,603.43 1352.00,606.20 C1355.38,609.40 1359.73,612.45 1364.40,615.00 C1369.63,617.85 1376.17,619.85 1382.10,622.10 C1388.00,624.34 1393.90,627.01 1399.90,628.50 C1405.73,629.94 1411.34,630.69 1417.60,631.00 C1424.61,631.35 1429.53,630.33 1440.00,630.10 C1464.52,629.56 1522.00,629.77 1563.00,629.60" fill="none" stroke="#000000" stroke-width="3.8" stroke-linejoin="round" stroke-linecap="butt"/>
</g>
<text x="1110.50" y="888.60" font-size="39.3" text-anchor="middle" fill="#262626">Time (s)</text>
<text x="1110.50" y="940.30" font-size="39.3" text-anchor="middle" fill="#262626">(c)</text>
<text x="536.70" y="634.50" font-size="39.3" text-anchor="middle" fill="#262626" transform="rotate(-90 536.70 634.50)">MTPG Unit (p.u.)</text>
<line x1="531.30" y1="985.10" x2="618.20" y2="985.10" stroke="#00ff00" stroke-width="4"/>
<text transform="translate(623.30 1002.90) scale(1 1.06)" font-size="47" text-anchor="start" fill="#000000">FOPID</text>
<line x1="786.30" y1="985.10" x2="883.20" y2="985.10" stroke="#000000" stroke-width="4"/>
<text transform="translate(891.00 1002.90) scale(1 1.06)" font-size="47" text-anchor="start" fill="#000000">PID</text>
<line x1="988.60" y1="985.10" x2="1086.60" y2="985.10" stroke="#0072bd" stroke-width="4"/>
<text transform="translate(1092.00 1002.90) scale(1 1.06)" font-size="47" text-anchor="start" fill="#000000">FOPI-PID</text>
<line x1="1314.60" y1="985.10" x2="1411.90" y2="985.10" stroke="#ff0000" stroke-width="4"/>
<text transform="translate(1418.80 1002.90) scale(1 1.06)" font-size="47" text-anchor="start" fill="#000000">PD-PID</text>
</svg>
</body></html>
